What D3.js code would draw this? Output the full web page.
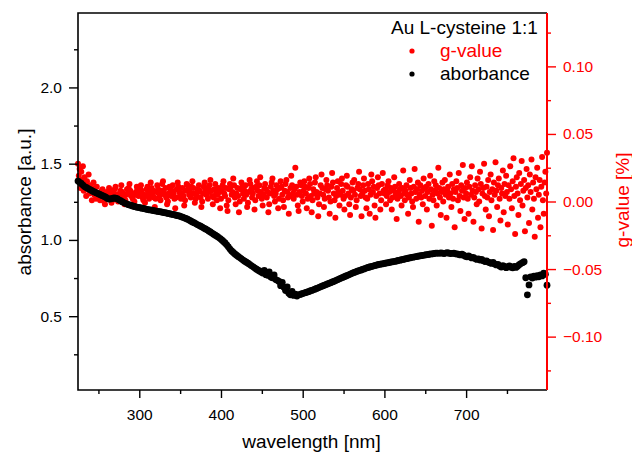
<!DOCTYPE html>
<html><head><meta charset="utf-8">
<script src="https://cdn.jsdelivr.net/npm/d3@7"></script>
<style>body{margin:0;background:#fff}svg{display:block;font-family:"Liberation Sans",Arial,sans-serif}</style>
</head><body><svg id="c" width="632" height="453"></svg>
<script>
// wavelength grids (nm)
const absStart = 225, absStep = 2;
const gStart = 225, gStep = 1;
// absorbance [a.u.] every 2 nm from 225 nm
const absorbance = [
1.386,1.378,1.370,1.360,1.350,1.344,1.338,1.332,1.326,1.320,1.315,1.310,1.305,1.300,1.295,1.290,1.285,1.280,1.272,1.268,
1.269,1.272,1.275,1.274,1.270,1.263,1.257,1.251,1.245,1.240,1.235,1.231,1.228,1.224,1.221,1.218,1.215,1.213,1.211,1.208,
1.206,1.204,1.201,1.199,1.197,1.196,1.193,1.191,1.189,1.187,1.185,1.183,1.181,1.179,1.177,1.174,1.172,1.169,1.167,1.165,
1.162,1.159,1.157,1.153,1.149,1.145,1.141,1.136,1.130,1.124,1.118,1.113,1.107,1.101,1.096,1.090,1.084,1.078,1.072,1.066,
1.059,1.052,1.045,1.038,1.031,1.024,1.017,1.009,1.000,0.990,0.980,0.968,0.955,0.940,0.928,0.918,0.908,0.900,0.892,0.884,
0.876,0.868,0.861,0.854,0.847,0.840,0.832,0.825,0.817,0.810,0.803,0.797,0.790,0.783,0.800,0.772,0.768,0.790,0.757,0.752,
0.770,0.740,0.735,0.728,0.700,0.722,0.690,0.668,0.692,0.650,0.640,0.662,0.636,0.645,0.632,0.640,0.643,0.647,0.650,0.654,
0.657,0.661,0.665,0.669,0.673,0.677,0.682,0.686,0.691,0.695,0.700,0.704,0.708,0.713,0.717,0.721,0.726,0.730,0.735,0.740,
0.745,0.750,0.754,0.759,0.764,0.768,0.773,0.778,0.783,0.787,0.791,0.795,0.799,0.802,0.806,0.810,0.814,0.818,0.821,0.824,
0.827,0.830,0.833,0.836,0.839,0.841,0.843,0.845,0.847,0.849,0.851,0.854,0.856,0.858,0.860,0.862,0.865,0.867,0.870,0.872,
0.875,0.877,0.880,0.882,0.885,0.887,0.889,0.891,0.893,0.895,0.897,0.899,0.901,0.903,0.904,0.906,0.908,0.909,0.911,0.913,
0.914,0.912,0.915,0.913,0.911,0.914,0.916,0.913,0.910,0.912,0.914,0.909,0.908,0.905,0.902,0.906,0.900,0.893,0.889,0.895,
0.888,0.882,0.885,0.878,0.872,0.876,0.868,0.872,0.864,0.858,0.862,0.855,0.851,0.846,0.853,0.843,0.836,0.840,0.829,0.822,
0.832,0.826,0.818,0.823,0.830,0.821,0.817,0.826,0.820,0.828,0.838,0.845,0.851,0.857,0.752,0.640,0.705,0.758,0.750,0.762,
0.756,0.766,0.758,0.770,0.764,0.782,0.775,0.703
];
// g-value [%] every 1 nm from 225 nm
const gValue = [
.028,.019,.024,.010,.022,.016,.026,.008,.018,.013,.004,.015,.011,.020,.006,.012,.009,.001,.010,.014,.005,.007,.002,.011,.006,
.003,.005,.001,.002,.008,.009,.006,.000,-.002,.004,.007,.003,.005,.010,.008,.002,-.001,.001,.006,.004,.009,.011,.005,.003,.000,
.002,.006,.008,.012,.007,.004,.003,-.002,.001,.005,.009,.006,.010,.013,.008,.004,.006,.002,-.003,.000,.005,.007,.011,.009,.004,
.006,.010,.012,.008,.003,.001,.005,-.001,.004,.009,.011,.007,.002,.006,.014,.010,.005,.008,.003,-.004,.002,.007,.012,.009,.006,
.004,.001,.008,.013,.015,.007,.005,.010,.003,-.002,.000,.006,.011,.009,.004,.008,.012,.006,.002,-.005,.003,.009,.014,.011,.007,
.005,.002,.006,.010,.004,-.003,.001,.008,.013,.012,.009,.005,.007,.003,.011,.015,.010,.006,-.001,.002,.004,.009,.007,.012,.008,
.003,-.004,.000,.006,.011,.014,.009,.005,.010,.002,.007,.012,.016,.008,.004,-.002,.003,.009,.013,.006,.001,.005,.010,.007,-.005,
.002,.008,.012,.015,.006,.004,.010,-.003,-.007,.001,.009,.013,.011,.005,.007,.017,.012,.003,-.002,.006,.010,.004,-.008,.000,.009,
.014,.011,.006,.002,.008,.012,.005,-.004,-.001,.007,.016,.013,.009,.003,.006,.010,-.006,.001,.011,.015,.008,.004,.012,.018,.007,
.002,-.003,.005,.010,.013,.009,.003,.007,-.008,-.002,.006,.011,.014,.017,.008,.004,.000,.006,.012,.009,-.005,.002,.010,.015,.011,
.005,.001,-.004,.008,.013,.016,.007,.003,-.009,.004,.010,.019,.012,.006,.002,.009,.025,.011,.005,-.003,-.007,.007,.014,.012,.004,
.000,.008,.015,.011,.006,-.005,.002,.010,.017,.013,.004,-.008,.001,.009,.006,.014,.018,.007,.003,-.011,-.002,.006,.012,.020,.010,
.005,-.004,.002,.009,.016,.012,.008,.003,-.009,.000,.011,.021,.014,.006,.001,-.012,.004,.010,.015,.007,-.003,.005,.013,.017,.008,
.002,-.006,.004,.012,.019,.011,.006,-.002,-.010,.003,.009,.014,.008,.016,.005,-.004,.001,.010,.013,.022,.009,.004,-.011,.006,.012,
.017,.008,.003,-.005,.002,.013,.009,-.009,.005,.020,.015,.007,.011,-.003,-.012,.004,.010,.018,.012,.006,-.006,.001,.013,.021,.008,
.006,.009,-.002,.004,.012,.015,.007,.001,.010,-.006,.003,.008,.018,.011,.005,-.013,.002,.007,.013,.009,.004,-.003,.010,.023,.006,
.001,.008,.012,.005,-.009,.003,.016,.010,.006,.000,-.004,.011,.024,.007,.002,.009,.014,-.015,.005,.012,.003,.008,-.002,.017,.010,
.004,.011,-.006,.007,.013,.002,.019,.009,-.018,.005,.001,.015,.008,.012,-.003,.006,.025,.010,.003,-.010,.007,.014,.000,.009,.016,
.005,-.012,.008,.011,.003,.020,.006,-.004,.013,.002,.009,-.019,.007,.015,.010,.001,.021,.004,-.007,.012,.008,.027,.003,-.013,.010,
.006,.014,.002,-.009,.011,.018,.005,.026,.008,-.015,.003,.012,.007,-.002,.017,.009,.000,.022,.013,-.020,.006,.010,.028,.004,-.006,
.011,.003,.016,-.011,.007,.020,.001,.009,-.021,.014,.005,.029,.008,-.004,.012,.017,.002,-.014,.010,.006,.023,-.008,.013,.004,.019,
.007,-.017,.012,.002,.026,.009,-.005,.015,.032,.004,-.024,.011,.018,.006,-.010,.021,.001,.013,.030,-.003,.008,.016,-.022,.010,.024,
.003,.012,-.016,.020,.007,.031,-.006,.014,.002,-.026,.018,.009,.025,-.012,.005,.016,-.019,.011,.033,.001,-.009,.014,.022,.006,.036
];
const xTicks = [300, 400, 500, 600, 700];
const xMinor = [250, 350, 450, 550, 650, 750];
const yLTicks = [0.5, 1.0, 1.5, 2.0];
const yLMinor = [0.25, 0.75, 1.25, 1.75, 2.25];
const yRTicks = [-0.10, -0.05, 0.00, 0.05, 0.10];
const yRMinor = [-0.125, -0.075, -0.025, 0.025, 0.075, 0.125];
const legendTitle = "Au L-cysteine 1:1";
const seriesNames = ["g-value", "aborbance"];
const colors = {g: "#ff0000", abs: "#000000"};

const L = 78, R = 547, T = 13, B = 390;
const svg = d3.select("#c");
const x = d3.scaleLinear().domain([225, 799]).range([L, R]);
const yL = d3.scaleLinear().domain([0.016, 2.488]).range([B, T]);
const yR = d3.scaleLinear().domain([-0.1395, 0.1395]).range([B, T]);

const absData = absorbance.map((v, i) => ({w: absStart + i * absStep, v}));
const gData = gValue.map((v, i) => ({w: gStart + i * gStep, v}));

// red scatter
svg.append("g").selectAll("circle").data(gData).join("circle")
  .attr("cx", d => x(d.w)).attr("cy", d => yR(d.v)).attr("r", 3.0).attr("fill", colors.g);
// black scatter
svg.append("g").selectAll("circle").data(absData).join("circle")
  .attr("cx", d => x(d.w)).attr("cy", d => yL(d.v)).attr("r", 3.4).attr("fill", colors.abs);

const fs = "15.5px";
const gx = svg.append("g").attr("transform", `translate(0,${B})`)
  .call(d3.axisBottom(x).tickValues(xTicks).tickSize(8).tickSizeOuter(0).tickPadding(11).tickFormat(d3.format("d")));
svg.append("g").attr("transform", `translate(0,${B})`)
  .call(d3.axisBottom(x).tickValues(xMinor).tickSize(4).tickSizeOuter(0).tickFormat(""));
const gyl = svg.append("g").attr("transform", `translate(${L},0)`)
  .call(d3.axisLeft(yL).tickValues(yLTicks).tickSize(9).tickSizeOuter(0).tickPadding(7).tickFormat(d3.format(".1f")));
svg.append("g").attr("transform", `translate(${L},0)`)
  .call(d3.axisLeft(yL).tickValues(yLMinor).tickSize(4).tickSizeOuter(0).tickFormat(""));
const gyr = svg.append("g").attr("class", "raxis").attr("transform", `translate(${R},0)`)
  .call(d3.axisRight(yR).tickValues(yRTicks).tickSize(9).tickSizeOuter(0).tickPadding(7).tickFormat(d3.format(".2f")));
svg.append("g").attr("class", "raxis").attr("transform", `translate(${R},0)`)
  .call(d3.axisRight(yR).tickValues(yRMinor).tickSize(4).tickSizeOuter(0).tickFormat(""));

svg.selectAll(".domain").remove();
svg.selectAll(".tick text").attr("font-size", fs).attr("font-family", null);
svg.selectAll(".tick line").attr("stroke-width", 1.4);
svg.selectAll(".raxis .tick text").attr("fill", colors.g);
svg.selectAll(".raxis .tick line").attr("stroke", colors.g);

// frame
svg.append("path").attr("d", `M${R},${T}H${L}V${B}H${R}`).attr("fill", "none").attr("stroke", "#000").attr("stroke-width", 1.6);
svg.append("line").attr("x1", R).attr("x2", R).attr("y1", T).attr("y2", B).attr("stroke", colors.g).attr("stroke-width", 2);

// axis titles
const tfs = "19px";
svg.append("text").attr("x", (L + R) / 2 - 1).attr("y", 448).attr("text-anchor", "middle")
  .attr("font-size", tfs).text("wavelength [nm]");
svg.append("text").attr("transform", "translate(31,202) rotate(-90)").attr("text-anchor", "middle")
  .attr("font-size", tfs).text("absorbance [a.u.]");
svg.append("text").attr("transform", "translate(629,200) rotate(-90)").attr("text-anchor", "middle")
  .attr("font-size", tfs).attr("fill", colors.g).text("g-value [%]");

// legend
svg.append("text").attr("x", 391).attr("y", 33.5).attr("font-size", tfs).text(legendTitle);
const leg = [{name: seriesNames[0], c: colors.g, y: 57}, {name: seriesNames[1], c: colors.abs, y: 80}];
leg.forEach(e => {
  svg.append("circle").attr("cx", 412).attr("cy", e.y - 6).attr("r", 2.6).attr("fill", e.c);
  svg.append("text").attr("x", 440).attr("y", e.y).attr("font-size", tfs).attr("fill", e.c).text(e.name);
});
</script></body></html>
